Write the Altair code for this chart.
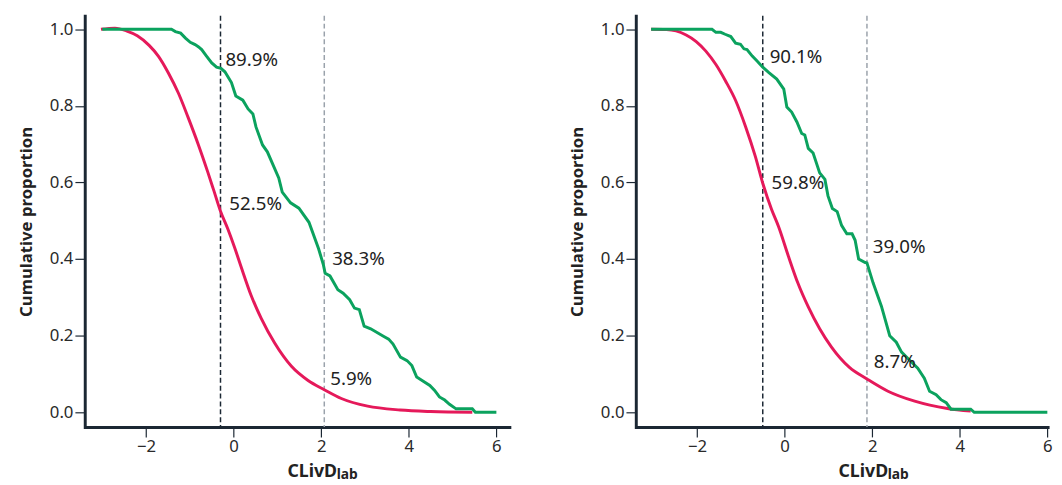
import altair as alt
import pandas as pd

# ---------------- data ----------------
# Left panel
left_green_x = [-3.0, -1.42, -1.33, -1.21, -1.10, -0.99, -0.88, -0.80, -0.73, -0.62, -0.50, -0.39,
                -0.29, -0.20, -0.05, 0.05, 0.21, 0.33, 0.44, 0.51, 0.66, 0.77, 1.03, 1.11, 1.30, 1.49,
                1.72, 1.94, 2.05, 2.09, 2.20, 2.38, 2.50, 2.65, 2.76, 2.87, 2.98, 3.13, 3.43, 3.54,
                3.64, 3.81, 3.96, 4.07, 4.18, 4.33, 4.48, 4.59, 4.70, 4.82, 4.93, 5.08, 5.45, 5.52, 6.0]
left_green_y = [1.0, 1.0, 0.994, 0.99, 0.977, 0.966, 0.96, 0.954, 0.947, 0.93, 0.912, 0.901,
                0.898, 0.889, 0.861, 0.826, 0.815, 0.792, 0.779, 0.745, 0.698, 0.68, 0.612, 0.575, 0.547, 0.533,
                0.496, 0.427, 0.385, 0.363, 0.356, 0.32, 0.311, 0.294, 0.272, 0.268, 0.225, 0.218, 0.198, 0.191,
                0.178, 0.144, 0.135, 0.122, 0.092, 0.081, 0.07, 0.057, 0.04, 0.032, 0.021, 0.009, 0.009, 0.0, 0.0]
left_red_x = [-3.03, -2.71, -2.45, -2.2, -1.93, -1.72, -1.49, -1.26, -1.04, -0.81, -0.59, -0.45, -0.3,
              -0.13, 0.02, 0.17, 0.4, 0.63, 0.94, 1.32, 1.7, 2.07, 2.46, 3.06, 3.8, 4.5, 5.45]
left_red_y = [1.0, 1.003, 0.996, 0.983, 0.958, 0.93, 0.886, 0.833, 0.77, 0.7, 0.627, 0.578, 0.525,
              0.478, 0.431, 0.38, 0.305, 0.245, 0.18, 0.12, 0.083, 0.059, 0.036, 0.016, 0.006, 0.002, 0.0]
left_cuts = [-0.3, 2.07]
left_label_x = [-0.3, -0.3, 2.07, 2.07]
left_label_y = [0.899, 0.525, 0.383, 0.059]
left_label_text = ["89.9%", "52.5%", "38.3%", "5.9%"]

# Right panel
right_green_x = [-3.05, -1.66, -1.57, -1.46, -1.36, -1.23, -1.12, -1.01, -0.93, -0.86, -0.74, -0.63,
                 -0.5, -0.36, -0.18, -0.02, 0.05, 0.16, 0.28, 0.39, 0.46, 0.54, 0.65, 0.80, 0.92, 0.99,
                 1.09, 1.20, 1.30, 1.42, 1.54, 1.61, 1.69, 1.84, 1.88, 2.02, 2.21, 2.40, 2.55, 2.67,
                 2.89, 3.04, 3.19, 3.31, 3.46, 3.57, 3.69, 3.80, 4.25, 4.33, 6.0]
right_green_y = [1.0, 1.0, 0.992, 0.992, 0.987, 0.981, 0.964, 0.961, 0.949, 0.947, 0.93, 0.917,
                 0.901, 0.887, 0.87, 0.844, 0.797, 0.784, 0.758, 0.728, 0.724, 0.689, 0.677, 0.625, 0.608, 0.565,
                 0.532, 0.524, 0.488, 0.466, 0.466, 0.449, 0.40, 0.391, 0.39, 0.338, 0.277, 0.20, 0.183, 0.157,
                 0.132, 0.115, 0.089, 0.055, 0.046, 0.033, 0.025, 0.008, 0.008, 0.0, 0.0]
right_red_x = [-3.05, -2.7, -2.48, -2.25, -2.02, -1.8, -1.57, -1.35, -1.12, -0.89, -0.67, -0.5, -0.3,
               -0.14, 0.09, 0.3, 0.54, 0.8, 1.07, 1.48, 1.88, 2.36, 2.97, 3.72, 4.25]
right_red_y = [1.0, 0.9995, 0.996, 0.985, 0.968, 0.943, 0.908, 0.865, 0.814, 0.745, 0.668, 0.598, 0.53,
               0.485, 0.406, 0.338, 0.275, 0.218, 0.17, 0.117, 0.087, 0.055, 0.029, 0.01, 0.003]
right_cuts = [-0.5, 1.88]
right_label_x = [-0.5, -0.5, 1.88, 1.88]
right_label_y = [0.901, 0.598, 0.39, 0.087]
right_label_text = ["90.1%", "59.8%", "39.0%", "8.7%"]

x_ticks = [-2, 0, 2, 4, 6]
y_ticks = [0.0, 0.2, 0.4, 0.6, 0.8, 1.0]

# ---------------- styling ----------------
FONT = "Noto Sans"
GREEN = "#0ba25e"
RED = "#e5195a"
AXIS = "#1b2733"
H = 418
Y_DOMAIN = [-0.0386, 1.0353]


def panel(gx, gy, rx, ry, cuts, lx, ly, lt, offsets, width, xmax):
    xs = alt.Scale(domain=[-3.4, xmax], nice=False, zero=False)
    ys = alt.Scale(domain=Y_DOMAIN, nice=False, zero=False)
    xax = alt.Axis(values=x_ticks, format="d", title=None)
    yax = alt.Axis(values=y_ticks, format=".1f", title="Cumulative proportion")

    green = pd.DataFrame({"x": gx, "y": gy})
    red = pd.DataFrame({"x": rx, "y": ry})

    rule_black = alt.Chart(pd.DataFrame({"x": [cuts[0]]})).mark_rule(
        color="#1b2733", strokeWidth=1.5, strokeDash=[5, 3]
    ).encode(x=alt.X("x:Q", scale=xs, axis=xax))
    rule_gray = alt.Chart(pd.DataFrame({"x": [cuts[1]]})).mark_rule(
        color="#9aa2ab", strokeWidth=1.5, strokeDash=[5, 3]
    ).encode(x=alt.X("x:Q", scale=xs, axis=xax))

    red_line = alt.Chart(red).mark_line(color=RED, strokeWidth=3, interpolate="monotone").encode(
        x=alt.X("x:Q", scale=xs, axis=xax),
        y=alt.Y("y:Q", scale=ys, axis=yax),
        order="x:Q",
    )
    green_line = alt.Chart(green).mark_line(color=GREEN, strokeWidth=3).encode(
        x=alt.X("x:Q", scale=xs, axis=xax),
        y=alt.Y("y:Q", scale=ys, axis=yax),
        order="x:Q",
    )

    layers = [rule_black, rule_gray, red_line, green_line]
    for i in range(len(lt)):
        dx, dy = offsets[i]
        d = pd.DataFrame({"x": [lx[i]], "y": [ly[i]], "t": [lt[i]]})
        layers.append(
            alt.Chart(d).mark_text(
                align="left", baseline="middle", dx=dx, dy=dy,
                font=FONT, fontSize=19, color="#222222"
            ).encode(
                x=alt.X("x:Q", scale=xs, axis=xax),
                y=alt.Y("y:Q", scale=ys, axis=yax),
                text="t:N",
            )
        )

    # x-axis title "CLivD" with smaller "lab"
    t1 = alt.Chart(pd.DataFrame({"t": ["CLivD"]})).mark_text(
        align="left", baseline="alphabetic", font=FONT, fontSize=18, fontWeight="bold", color="#222222"
    ).encode(x=alt.value(206), y=alt.value(H + 51), text="t:N")
    t2 = alt.Chart(pd.DataFrame({"t": ["lab"]})).mark_text(
        align="left", baseline="alphabetic", font=FONT, fontSize=14, fontWeight="bold", color="#222222"
    ).encode(x=alt.value(256), y=alt.value(H + 53), text="t:N")
    layers += [t1, t2]

    return alt.layer(*layers).properties(width=width, height=H)


left = panel(left_green_x, left_green_y, left_red_x, left_red_y, left_cuts,
             left_label_x, left_label_y, left_label_text,
             [(5, -8), (9, -7), (8, -7), (6, -11)], 433, 6.33)
right = panel(right_green_x, right_green_y, right_red_x, right_red_y, right_cuts,
              right_label_x, right_label_y, right_label_text,
              [(7, -10), (9, 0), (6, -16), (7, -17)], 420, 6.04)

chart = alt.hconcat(left, right, spacing=58).properties(
    padding={"left": 9, "top": 3, "right": 0, "bottom": 0}
).configure_view(stroke=None).configure_axis(
    grid=False,
    domainColor=AXIS,
    domainWidth=3,
    tickColor=AXIS,
    tickWidth=1.2,
    tickSize=10,
    labelFont=FONT,
    labelFontSize=17,
    labelColor="#2a2a2a",
    labelPadding=2,
    titleFont=FONT,
    titleFontSize=17,
    titleFontWeight="bold",
    titleColor="#222222",
    titlePadding=14,
).configure_axisY(domainCap="square")

chart.save("out.html", embed_options={"renderer": "svg", "actions": False})
